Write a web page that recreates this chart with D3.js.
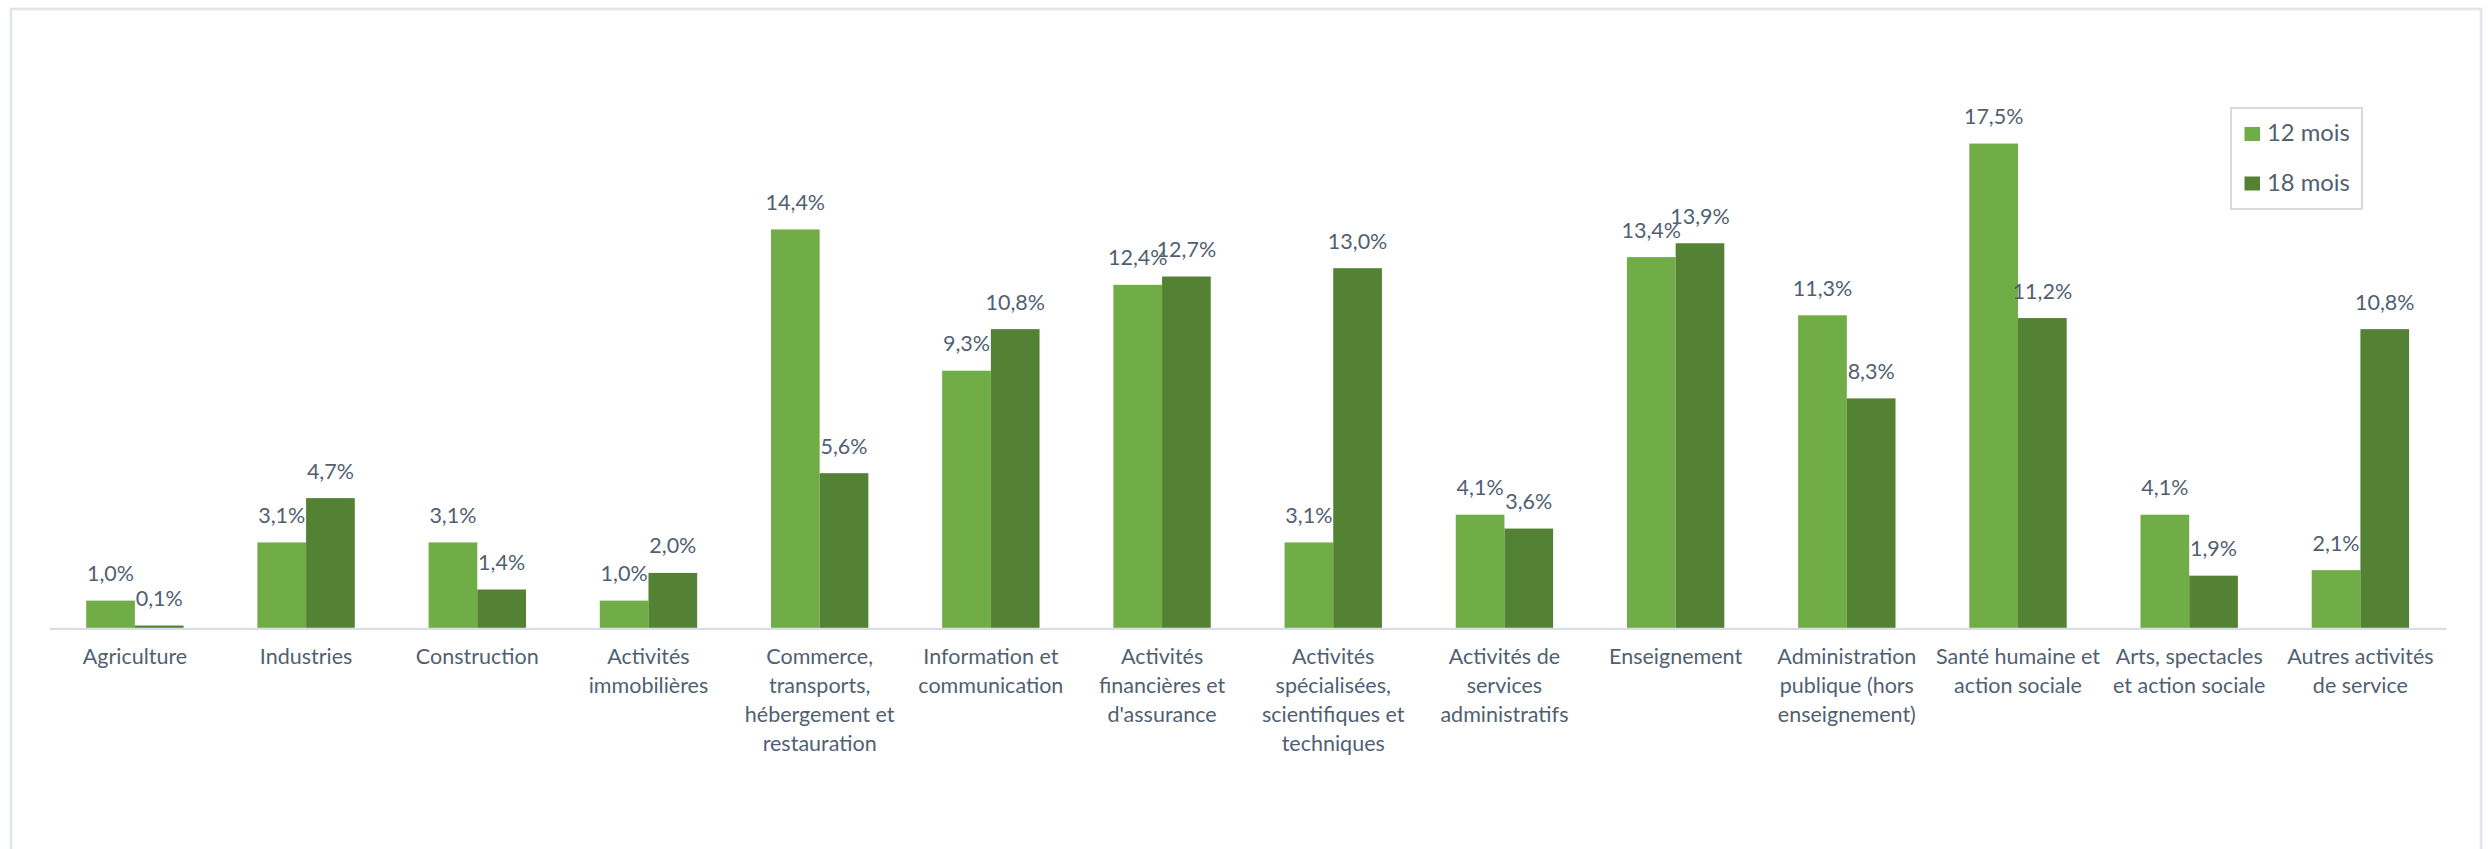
<!DOCTYPE html>
<html>
<head>
<meta charset="utf-8">
<script src="https://cdn.jsdelivr.net/npm/d3@7/dist/d3.min.js"></script>
<style>
  html, body { margin: 0; padding: 0; background: #ffffff; }
  svg { display: block; }
  text { font-family: Lato, "Open Sans", sans-serif; }
</style>
</head>
<body>
<svg id="chart" width="2490" height="849"></svg>
<script>
// ---- data ----
const categories = [
  "Agriculture",
  "Industries",
  "Construction",
  "Activités immobilières",
  "Commerce, transports, hébergement et restauration",
  "Information et communication",
  "Activités financières et d'assurance",
  "Activités spécialisées, scientifiques et techniques",
  "Activités de services administratifs",
  "Enseignement",
  "Administration publique (hors enseignement)",
  "Santé humaine et action sociale",
  "Arts, spectacles et action sociale",
  "Autres activités de service"
];
const categoryLines = [
  ["Agriculture"],
  ["Industries"],
  ["Construction"],
  ["Activités", "immobilières"],
  ["Commerce,", "transports,", "hébergement et", "restauration"],
  ["Information et", "communication"],
  ["Activités", "financières et", "d'assurance"],
  ["Activités", "spécialisées,", "scientifiques et", "techniques"],
  ["Activités de", "services", "administratifs"],
  ["Enseignement"],
  ["Administration", "publique (hors", "enseignement)"],
  ["Santé humaine et", "action sociale"],
  ["Arts, spectacles", "et action sociale"],
  ["Autres activités", "de service"]
];
const seriesNames = ["12 mois", "18 mois"];
const values12 = [1.0, 3.1, 3.1, 1.0, 14.4, 9.3, 12.4, 3.1, 4.1, 13.4, 11.3, 17.5, 4.1, 2.1];
const values18 = [0.1, 4.7, 1.4, 2.0, 5.6, 10.8, 12.7, 13.0, 3.6, 13.9, 8.3, 11.2, 1.9, 10.8];
const yDomain = [0, 20];

// ---- styling ----
const colors = ["#70AD47", "#548235"];
const textColor = "#515f73";
const fontSize = 21.5;

const svg = d3.select("#chart");

// outer frame
svg.append("rect")
  .attr("x", 11).attr("y", 9)
  .attr("width", 2470).attr("height", 870)
  .attr("fill", "#ffffff")
  .attr("stroke", "#e0e4eb")
  .attr("stroke-width", 2.6);

const baseY = 628.3;
const x0 = d3.scaleBand().domain(categories).range([49.3, 2446]).paddingInner(0).paddingOuter(0);
const x1 = d3.scaleBand().domain(seriesNames).range([0, x0.bandwidth()]).paddingInner(0).paddingOuter(0.758);
const y = d3.scaleLinear().domain(yDomain).range([baseY, baseY - 20 * 27.7]);
const color = d3.scaleOrdinal().domain(seriesNames).range(colors);

const rows = categories.map((c, i) => ({
  cat: c,
  vals: [
    { s: seriesNames[0], v: values12[i] },
    { s: seriesNames[1], v: values18[i] }
  ]
}));

const groups = svg.append("g").selectAll("g")
  .data(rows).join("g")
  .attr("transform", d => `translate(${x0(d.cat)},0)`);

groups.selectAll("rect")
  .data(d => d.vals).join("rect")
  .attr("x", d => x1(d.s))
  .attr("y", d => y(d.v))
  .attr("width", x1.bandwidth())
  .attr("height", d => y(0) - y(d.v))
  .attr("fill", d => color(d.s));

groups.selectAll("text.val")
  .data(d => d.vals).join("text")
  .attr("class", "val")
  .attr("x", d => x1(d.s) + x1.bandwidth() / 2)
  .attr("y", d => y(d.v) - 19.5)
  .attr("text-anchor", "middle")
  .attr("fill", textColor)
  .attr("font-size", fontSize)
  .text(d => d.v.toFixed(1).replace(".", ",") + "%");

// x axis
const axis = svg.append("g")
  .attr("transform", `translate(0,${baseY})`)
  .call(d3.axisBottom(x0).tickSize(0).tickSizeOuter(0).tickFormat(""));
axis.select(".domain").attr("stroke", "#d9dee6").attr("stroke-width", 2.2);

axis.selectAll(".tick text").remove();
axis.selectAll(".tick").each(function(d, i) {
  const t = d3.select(this).append("text")
    .attr("text-anchor", "middle")
    .attr("fill", textColor)
    .attr("font-size", fontSize)
    .attr("y", 36);
  categoryLines[i].forEach((line, k) => {
    t.append("tspan").attr("x", 0).attr("y", 36 + k * 29).text(line);
  });
});

// legend
const lg = svg.append("g");
lg.append("rect")
  .attr("x", 2231).attr("y", 108)
  .attr("width", 131).attr("height", 101)
  .attr("fill", "#ffffff")
  .attr("stroke", "#d9d9d9")
  .attr("stroke-width", 2);
seriesNames.forEach((s, i) => {
  lg.append("rect")
    .attr("x", 2244.5).attr("y", 127 + i * 49.5)
    .attr("width", 15.5).attr("height", 14)
    .attr("fill", color(s));
  lg.append("text")
    .attr("x", 2267).attr("y", 141 + i * 50)
    .attr("fill", textColor)
    .attr("font-size", 23.8)
    .text(s);
});
</script>
</body>
</html>
